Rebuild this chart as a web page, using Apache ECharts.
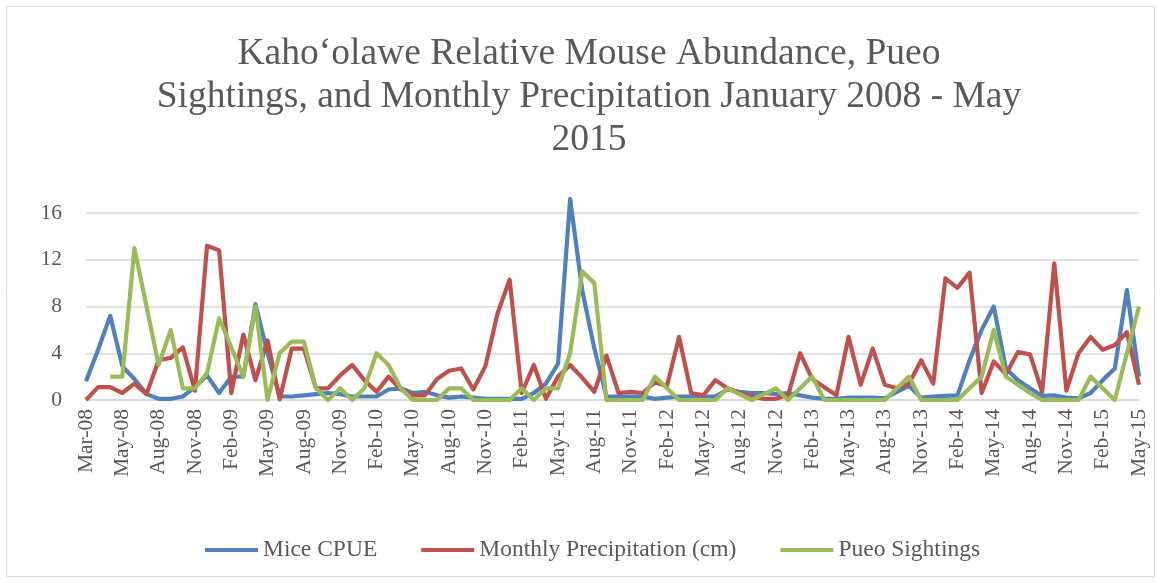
<!DOCTYPE html>
<html>
<head>
<meta charset="utf-8">
<script src="https://cdn.jsdelivr.net/npm/echarts@6/dist/echarts.min.js"></script>
<style>
  html, body { margin: 0; padding: 0; background: #fff; }
  #chart { width: 1161px; height: 583px; }
</style>
</head>
<body>
<div id="chart"></div>
<script>
// month labels, one per data point (source sheet has an extra point in spring 2008)
var months = [
  "Mar-08", "Apr-08", "Apr-08", "May-08", "Jun-08", "Jul-08", "Aug-08", "Sep-08", "Oct-08", "Nov-08", "Dec-08",
  "Jan-09", "Feb-09", "Mar-09", "Apr-09", "May-09", "Jun-09", "Jul-09", "Aug-09", "Sep-09", "Oct-09", "Nov-09", "Dec-09",
  "Jan-10", "Feb-10", "Mar-10", "Apr-10", "May-10", "Jun-10", "Jul-10", "Aug-10", "Sep-10", "Oct-10", "Nov-10", "Dec-10",
  "Jan-11", "Feb-11", "Mar-11", "Apr-11", "May-11", "Jun-11", "Jul-11", "Aug-11", "Sep-11", "Oct-11", "Nov-11", "Dec-11",
  "Jan-12", "Feb-12", "Mar-12", "Apr-12", "May-12", "Jun-12", "Jul-12", "Aug-12", "Sep-12", "Oct-12", "Nov-12", "Dec-12",
  "Jan-13", "Feb-13", "Mar-13", "Apr-13", "May-13", "Jun-13", "Jul-13", "Aug-13", "Sep-13", "Oct-13", "Nov-13", "Dec-13",
  "Jan-14", "Feb-14", "Mar-14", "Apr-14", "May-14", "Jun-14", "Jul-14", "Aug-14", "Sep-14", "Oct-14", "Nov-14", "Dec-14",
  "Jan-15", "Feb-15", "Mar-15", "Apr-15", "May-15"
];

var miceCpue = [
  1.6, 4.3, 7.2, 2.9, 1.8, 0.5, 0.1, 0.1, 0.3, 1.1, 2.1,
  0.6, 2.0, 2.0, 8.2, 4.0, 0.3, 0.3, 0.4, 0.5, 0.6, 0.5, 0.3,
  0.3, 0.3, 0.9, 1.0, 0.6, 0.7, 0.4, 0.2, 0.3, 0.2, 0.1, 0.1,
  0.1, 0.1, 0.6, 1.4, 3.1, 17.2, 9.4, 4.4, 0.3, 0.3, 0.3, 0.3,
  0.1, 0.2, 0.3, 0.3, 0.3, 0.3, 0.9, 0.7, 0.6, 0.6, 0.5, 0.6,
  0.4, 0.2, 0.1, 0.1, 0.2, 0.2, 0.2, 0.15, 0.7, 1.2, 0.2, 0.3,
  0.35, 0.4, 3.4, 6.0, 8.0, 2.7, 1.7, 1.0, 0.35, 0.4, 0.2, 0.15,
  0.6, 1.7, 2.7, 9.4, 2.0
];

var precipitation = [
  0, 1.1, 1.1, 0.6, 1.4, 0.5, 3.4, 3.6, 4.5, 0.8, 13.2,
  12.8, 0.6, 5.6, 1.7, 5.1, 0.05, 4.4, 4.4, 1.0, 1.0, 2.1, 3.0,
  1.7, 0.7, 2.0, 0.9, 0.4, 0.4, 1.8, 2.5, 2.7, 0.9, 2.9, 7.4,
  10.3, 0.6, 3.0, 0.1, 2.0, 3.0, 1.9, 0.7, 3.8, 0.6, 0.7, 0.6,
  1.5, 1.2, 5.4, 0.6, 0.4, 1.7, 1.0, 0.6, 0.3, 0.1, 0.1, 0.4,
  4.0, 1.8, 1.1, 0.4, 5.4, 1.3, 4.4, 1.3, 1.0, 1.4, 3.4, 1.4,
  10.4, 9.6, 10.9, 0.6, 3.3, 2.2, 4.1, 3.9, 0.7, 11.7, 0.8, 4.0,
  5.4, 4.3, 4.7, 5.8, 1.3
];

var pueoSightings = [
  null, null, 2, 2, 13, 8, 3, 6, 1, 1, 2.3,
  7, 4.5, 2, 8, 0, 4, 5, 5, 1, 0, 1, 0,
  1, 4, 3, 1, 0, 0, 0, 1, 1, 0, 0, 0,
  0, 1, 0, 1, 1, 4, 11, 10, 0, 0, 0, 0,
  2, 1, 0, 0, 0, 0, 1, 0.5, 0, 0.5, 1, 0,
  1, 2, 0, 0, 0, 0, 0, 0, 1, 2, 0, 0,
  0, 0, 1, 2, 6, 2, 1.3, 0.6, 0, 0, 0, 0,
  2, 1, 0, 4, 8
];

var yMin = 0;
var yMax = 16;
var yStep = 4;

var textColor = "#595959";
var serif = "'Liberation Serif', 'Times New Roman', serif";

var myChart = echarts.init(document.getElementById("chart"));
myChart.setOption({
  animation: false,
  backgroundColor: "#fff",
  graphic: [
    {
      type: "rect",
      shape: { x: 6.5, y: 6.5, width: 1148, height: 570 },
      style: { fill: "none", stroke: "#D9D9D9", lineWidth: 1 },
      silent: true
    }
  ],
  title: {
    text: "Kaho\u2018olawe Relative Mouse Abundance, Pueo\nSightings, and Monthly Precipitation January 2008 - May\n2015",
    // centre of the title block sits a bit right of the page centre
    left: 584,
    textAlign: "center",
    top: 28,
    textStyle: {
      fontFamily: serif,
      fontWeight: "normal",
      fontSize: 37.5,
      lineHeight: 43,
      color: textColor
    }
  },
  legend: {
    data: ["Mice CPUE", "Monthly Precipitation (cm)", "Pueo Sightings"],
    bottom: 16,
    left: 200,
    icon: "rect",
    itemWidth: 53,
    itemHeight: 4,
    itemGap: 44,
    textStyle: {
      fontFamily: serif,
      fontSize: 23.5,
      color: textColor
    }
  },
  grid: {
    left: 86,
    right: 22,
    top: 213,
    bottom: 183
  },
  xAxis: {
    type: "category",
    data: months,
    boundaryGap: false,
    axisLine: { lineStyle: { color: "#D9D9D9", width: 1.5 } },
    axisTick: { show: false },
    axisLabel: {
      interval: 2,
      rotate: 90,
      margin: 9,
      fontFamily: serif,
      fontSize: 21.5,
      color: textColor
    },
    splitLine: { show: false }
  },
  yAxis: {
    type: "value",
    min: yMin,
    max: yMax,
    interval: yStep,
    axisLine: { show: false },
    axisTick: { show: false },
    axisLabel: {
      margin: 24,
      fontFamily: serif,
      fontSize: 21.5,
      color: textColor
    },
    splitLine: { lineStyle: { color: "#D9D9D9", width: 1.5 } }
  },
  series: [
    {
      name: "Mice CPUE",
      type: "line",
      data: miceCpue,
      symbol: "none",
      clip: false,
      color: "#4F81BD",
      lineStyle: { width: 4.2, color: "#4F81BD", join: "round" }
    },
    {
      name: "Monthly Precipitation (cm)",
      type: "line",
      data: precipitation,
      symbol: "none",
      clip: false,
      color: "#C0504D",
      lineStyle: { width: 4.2, color: "#C0504D", join: "round" }
    },
    {
      name: "Pueo Sightings",
      type: "line",
      data: pueoSightings,
      symbol: "none",
      clip: false,
      color: "#9BBB59",
      lineStyle: { width: 4.2, color: "#9BBB59", join: "round" }
    }
  ]
});
</script>
</body>
</html>
